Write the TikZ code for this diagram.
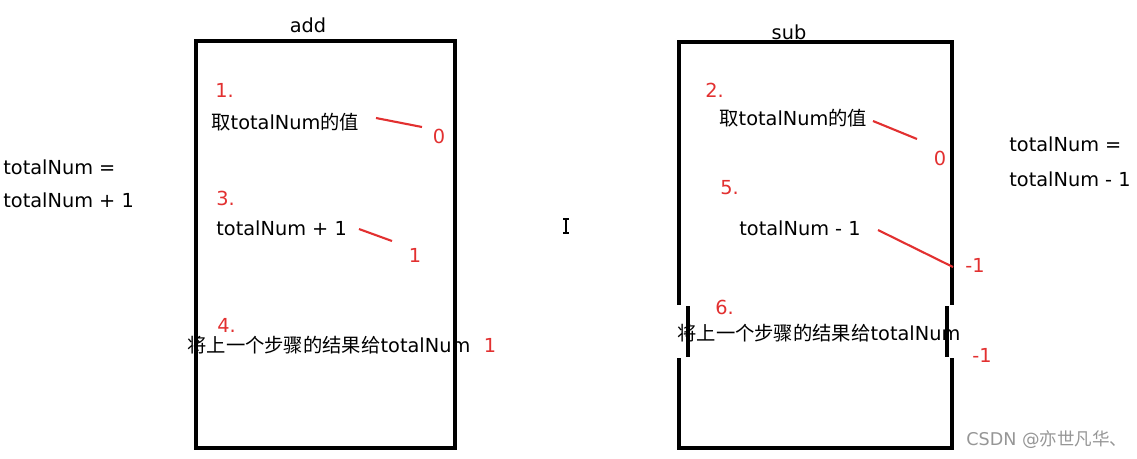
\documentclass[tikz,border=0pt]{standalone}
\usepackage{fontspec}
\setmainfont{DejaVu Sans}
\newfontfamily\cjk{Noto Sans CJK SC}
\usetikzlibrary{positioning}
\definecolor{markred}{RGB}{226,48,48}
\definecolor{wmgray}{RGB}{150,150,150}
\newcommand{\Tn}{totalNum}

\begin{document}
\begin{tikzpicture}[x=0.02cm, y=-0.02cm, every node/.style={font=\fontsize{11}{13}\selectfont, inner sep=0pt},
  txt/.style={anchor=west},
  num/.style={text=markred},
  redline/.style={draw=markred, line width=1.2pt},
  fnbox/.style={draw, line width=2pt}]
\useasboundingbox (0,0) rectangle (1137,458);

% Function boxes
\node[fnbox, minimum width=5.18cm, minimum height=8.14cm] (addbox) at (325.5,244.5) {};
\node[fnbox, minimum width=5.46cm, minimum height=8.12cm] (subbox) at (815.5,245) {};
\node (addtitle) at (308,25) {add};
\node (subtitle) at (789,32) {sub};

% Statements
\node[txt] (s1) at (215,90) {\textcolor{markred}{1.}};
\node[txt] (t1) at (211,122) {{\cjk 取}\Tn{\cjk 的值}};
\node[txt] (s3) at (216,198) {\textcolor{markred}{3.}};
\node[txt] (t3) at (216,228) {\Tn{} + 1};
\node[txt] (s4) at (217,325) {\textcolor{markred}{4.}};
\node[txt] (t4) at (187,345) {{\cjk 将上一个步骤的结果给}\Tn};

\node[txt] (s2) at (705,90) {\textcolor{markred}{2.}};
\node[txt] (t2) at (719,118) {{\cjk 取}\Tn{\cjk 的值}};
\node[txt] (s5) at (720,188) {\textcolor{markred}{5.}};
\node[txt] (t5) at (739,228) {\Tn{} - 1};
% pasted line breaks the box edges
\fill[white] (674,305) rectangle (958,358);
\draw[line width=2pt] (688,306) -- (688,357) (947,306) -- (947,357);
\node[txt] (s6) at (715,307) {\textcolor{markred}{6.}};
\node[txt] (t6) at (677,333) {{\cjk 将上一个步骤的结果给}\Tn};

% Values
\node[num] (v1) at (439,136) {0};
\node[num] (v3) at (415,255) {1};
\node[num] (v4) at (490,345) {1};
\node[num] (v2) at (940,158) {0};
\node[num] (v5) at (975,265) {-1};
\node[num] (v6) at (982,355) {-1};

\coordinate (a1) at (376,118); \coordinate (b1) at (422,127);
\coordinate (a3) at (359,229); \coordinate (b3) at (392,241);
\coordinate (a2) at (873,121); \coordinate (b2) at (917,139);
\coordinate (a5) at (878,230); \coordinate (b5) at (953,267);
\draw[redline] (a1) -- (b1);
\draw[redline] (a3) -- (b3);
\draw[redline] (a2) -- (b2);
\draw[redline] (a5) -- (b5);

% Side notes
\node[txt] (l1) at (3,167) {\Tn{} =};
\node[txt] (l2) at (3,200) {\Tn{} + 1};
\node[txt] (r1) at (1009,144) {\Tn{} =};
\node[txt] (r2) at (1009,179) {\Tn{} - 1};

% Cursor and watermark
\draw[line width=1pt] (563,219) -- (569,219) (566,219) -- (566,233) (563,233) -- (569,233);
\node[txt, text=wmgray, font=\fontsize{10}{12}\selectfont] (wm) at (966,440) {CSDN @{\cjk 亦世凡华、}};
\end{tikzpicture}
\end{document}
